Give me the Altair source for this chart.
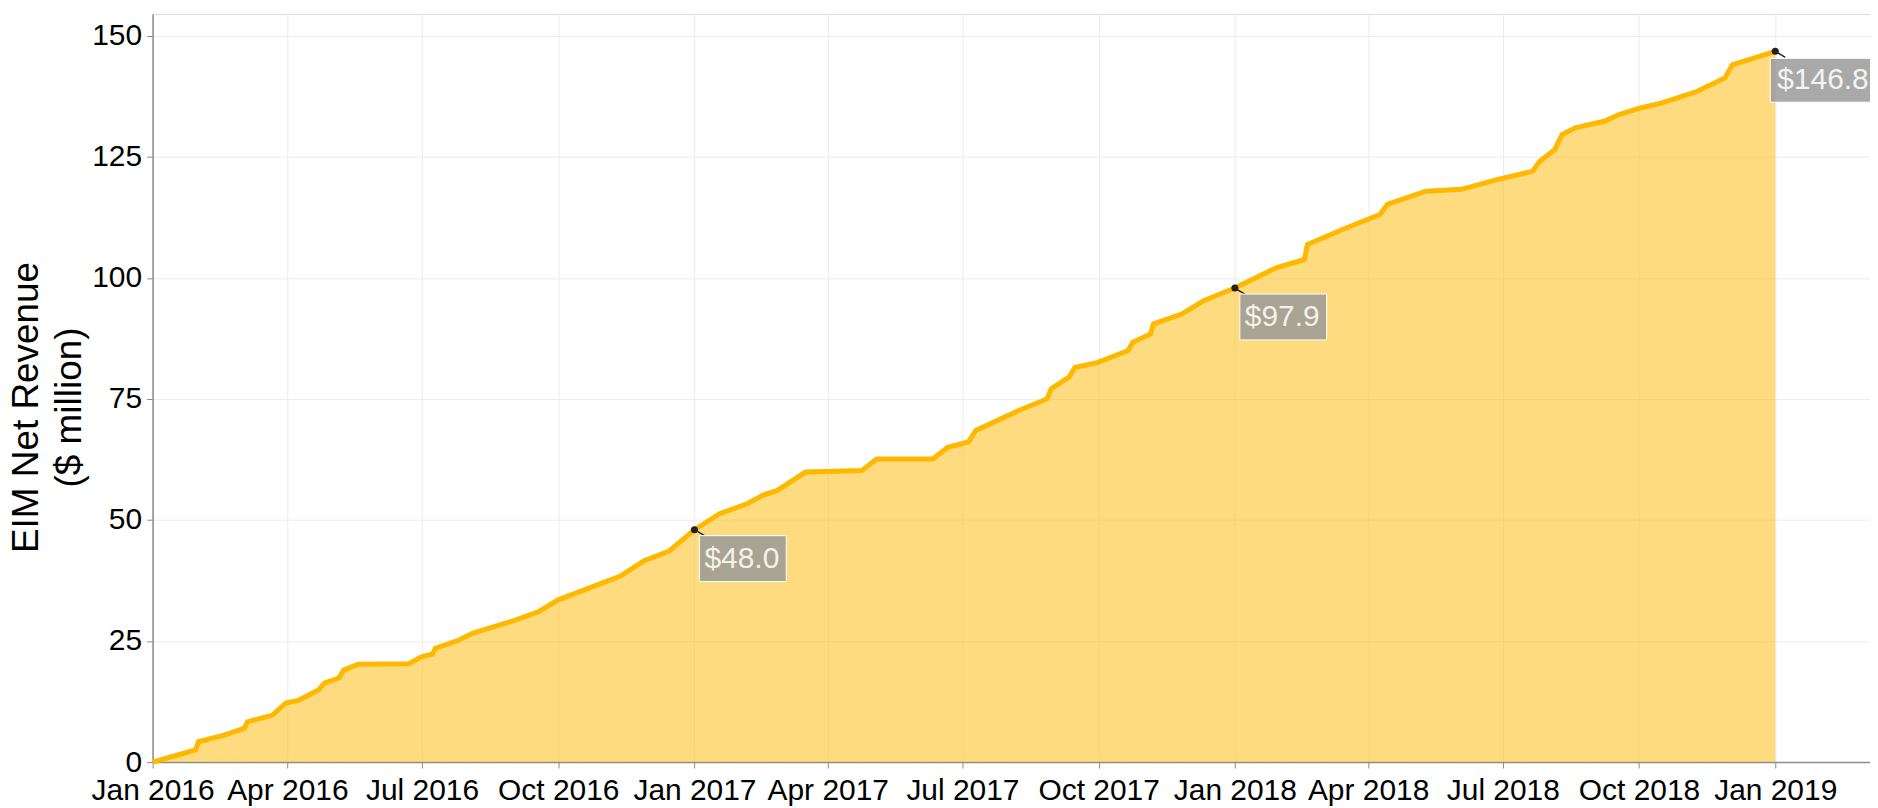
import altair as alt
import pandas as pd

# cumulative EIM net revenue ($ million)
dates = [
    "2016-01-01", "2016-01-15", "2016-01-30", "2016-02-01", "2016-02-19", "2016-03-03",
    "2016-03-05", "2016-03-22", "2016-03-31", "2016-04-09", "2016-04-22", "2016-04-26",
    "2016-05-06", "2016-05-09", "2016-05-19", "2016-06-22", "2016-07-01", "2016-07-08",
    "2016-07-10", "2016-07-26", "2016-08-04", "2016-08-22", "2016-09-02", "2016-09-18",
    "2016-10-01", "2016-10-19", "2016-11-12", "2016-11-28", "2016-12-15", "2017-01-01",
    "2017-01-18", "2017-02-06", "2017-02-16", "2017-02-26", "2017-03-17", "2017-04-24",
    "2017-05-04", "2017-06-11", "2017-06-21", "2017-07-05", "2017-07-10", "2017-08-08",
    "2017-08-27", "2017-08-30", "2017-09-11", "2017-09-15", "2017-09-30", "2017-10-21",
    "2017-10-24", "2017-11-05", "2017-11-07", "2017-11-26", "2017-12-11", "2018-01-01",
    "2018-01-29", "2018-02-17", "2018-02-19", "2018-03-18", "2018-04-09", "2018-04-14",
    "2018-05-10", "2018-06-03", "2018-06-27", "2018-07-21", "2018-07-26", "2018-08-05",
    "2018-08-10", "2018-08-19", "2018-09-08", "2018-09-17", "2018-10-02", "2018-10-16",
    "2018-11-09", "2018-11-28", "2018-12-03", "2019-01-01",
]
revenue = [
    0.0, 1.2, 2.5, 4.2, 5.6, 7.0,
    8.3, 9.7, 12.2, 12.8, 14.9, 16.3,
    17.4, 19.0, 20.2, 20.3, 21.8, 22.3,
    23.5, 25.2, 26.6, 28.3, 29.3, 31.1,
    33.5, 35.6, 38.4, 41.6, 43.6, 48.0,
    51.3, 53.4, 55.1, 56.1, 59.9, 60.2,
    62.6, 62.6, 65.0, 66.1, 68.5, 72.6,
    75.0, 77.1, 79.5, 81.5, 82.5, 85.0,
    86.7, 88.4, 90.5, 92.5, 95.3, 97.9,
    102.1, 103.8, 106.9, 110.4, 113.1, 115.2,
    117.9, 118.3, 120.3, 122.0, 124.1, 126.5,
    129.6, 131.0, 132.4, 133.7, 135.1, 136.1,
    138.5, 141.3, 144.0, 146.8,
]

ann_dates = ["2017-01-01", "2018-01-01", "2019-01-01"]
ann_values = [48.0, 97.9, 146.8]
ann_labels = ["$48.0", "$97.9", "$146.8"]

y_ticks = [0, 25, 50, 75, 100, 125, 150]
x_tick_dates = [
    (2016, 1), (2016, 4), (2016, 7), (2016, 10),
    (2017, 1), (2017, 4), (2017, 7), (2017, 10),
    (2018, 1), (2018, 4), (2018, 7), (2018, 10),
    (2019, 1),
]

df = pd.DataFrame({"date": dates, "revenue": revenue})
ann = pd.DataFrame({"date": ann_dates, "revenue": ann_values, "label": ann_labels})

FONT = "Liberation Sans"
LINE = "#FFB800"

x_scale = alt.Scale(
    type="utc",
    domain=[alt.DateTime(year=2016, month=1, date=1, utc=True),
            alt.DateTime(year=2019, month=3, date=6, utc=True)],
)
y_scale = alt.Scale(domain=[0, 154.5], nice=False, zero=True)

x_axis = alt.Axis(
    values=[alt.DateTime(year=y, month=m, date=1, utc=True) for y, m in x_tick_dates],
    format="%b %Y", title=None, labelFontSize=30, labelFont=FONT, labelColor="#000000",
    labelOverlap=False, labelFlush=False, labelPadding=8,
    tickSize=6, tickColor="#8c8c8c", domainColor="#8c8c8c", domainWidth=1.5,
    grid=True, gridColor="#ececec", gridWidth=1,
)
y_axis = alt.Axis(
    values=y_ticks, title=["EIM Net Revenue", "($ million)"],
    titleFont=FONT, titleFontSize=37, titleFontWeight="normal", titleColor="#000000",
    titleX=-144, titleY=394, titleAngle=-90, titleAlign="center", titleBaseline="top",
    titleLineHeight=43,
    labelFontSize=30, labelFont=FONT, labelColor="#000000", labelPadding=5,
    tickSize=6, tickColor="#8c8c8c", domainColor="#8c8c8c", domainWidth=1.5,
    grid=True, gridColor="#ececec", gridWidth=1,
)

X = alt.X("date:T", scale=x_scale, axis=x_axis)
Y = alt.Y("revenue:Q", scale=y_scale, axis=y_axis)

base = alt.Chart(df)
area = base.mark_area(color=LINE, opacity=0.5).encode(x=X, y=Y)
line = base.mark_line(color=LINE, strokeWidth=5).encode(x=X, y=Y)

abase = alt.Chart(ann)

connector = abase.mark_rule(color="#222222", strokeWidth=1.5, x2Offset=10, y2Offset=6).encode(
    x=X, y=Y, x2=alt.X2("date:T"), y2=alt.Y2("revenue:Q"))
dots = abase.mark_circle(color="#222222", size=50, opacity=1).encode(x=X, y=Y)

box_small = abase.transform_filter(alt.datum.revenue < 140).mark_rect(
    fill="#989898", fillOpacity=0.84, stroke="white", strokeWidth=1,
    xOffset=5, x2Offset=92, yOffset=6, y2Offset=52,
).encode(x=X, x2=alt.X2("date:T"), y=Y, y2=alt.Y2("revenue:Q"))
box_big = abase.transform_filter(alt.datum.revenue >= 140).mark_rect(
    fill="#989898", fillOpacity=0.84, stroke="white", strokeWidth=1,
    xOffset=-5, x2Offset=110, yOffset=7, y2Offset=51,
).encode(x=X, x2=alt.X2("date:T"), y=Y, y2=alt.Y2("revenue:Q"))

text_small = abase.transform_filter(alt.datum.revenue < 140).mark_text(
    font=FONT, fontSize=30, color="#F3F1E8", align="left", baseline="middle",
    dx=10, dy=29,
).encode(x=X, y=Y, text="label:N")
text_big = abase.transform_filter(alt.datum.revenue >= 140).mark_text(
    font=FONT, fontSize=30, color="#F3F3F3", align="left", baseline="middle",
    dx=2, dy=29,
).encode(x=X, y=Y, text="label:N")

chart = alt.layer(
    area, line, connector, box_small, box_big, text_small, text_big, dots
).properties(
    width=1722, height=750,
    padding={"left": 145, "top": 5, "right": 0, "bottom": 43},
    autosize=alt.AutoSizeParams(type="none"),
).configure_view(stroke=None).configure(background="white")

chart.save("out.html", embed_options={"renderer": "svg", "actions": False})
